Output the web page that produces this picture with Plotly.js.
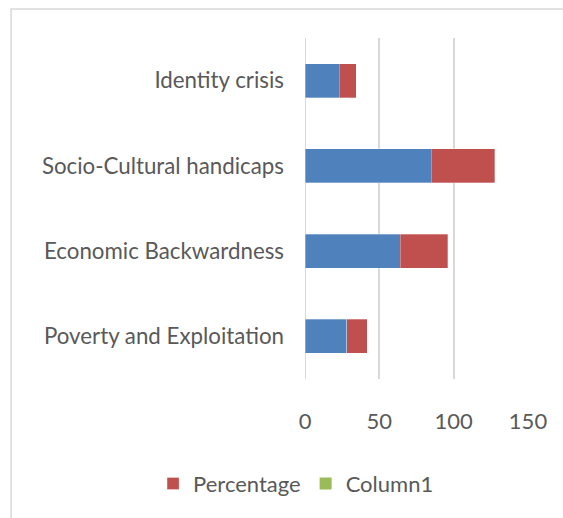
<!DOCTYPE html>
<html>
<head>
<meta charset="utf-8">
<script src="https://cdn.plot.ly/plotly-3.0.1.min.js"></script>
<style>
html,body{margin:0;padding:0;background:#fff;}
#chart{width:563px;height:518px;}
</style>
</head>
<body>
<div id="chart"></div>
<script>
const categories = ["Poverty and Exploitation", "Economic Backwardness", "Socio-Cultural handicaps", "Identity crisis"];
const frequency = [28, 64, 85, 23];
const percentage = [14, 32, 42.5, 11.5];
const column1 = [null, null, null, null];
const xTicks = [0, 50, 100, 150];

const FONT = "Lato, 'Liberation Sans', sans-serif";
const TXT = "#595959";
const GRID = "#d9d9d9";

const traces = [
  {type: "bar", orientation: "h", name: "Frequency", y: categories, x: frequency,
   marker: {color: "#4f81bd", line: {color: "#ffffff", width: 0.3}}, showlegend: false},
  {type: "bar", orientation: "h", name: "Percentage", y: categories, x: percentage,
   marker: {color: "#c0504d", line: {color: "#ffffff", width: 0.3}}},
  {type: "bar", orientation: "h", name: "Column1", y: categories, x: column1,
   marker: {color: "#9bbb59"}}
];

const layout = {
  width: 563, height: 518,
  margin: {l: 305, r: 35, t: 38, b: 139},
  paper_bgcolor: "#ffffff", plot_bgcolor: "#ffffff",
  barmode: "stack", bargap: 0.6,
  font: {family: FONT, size: 22, color: TXT},
  xaxis: {range: [0, 150], tickvals: xTicks, ticktext: xTicks.map(String),
          showgrid: true, gridcolor: GRID, gridwidth: 2, zeroline: false,
          showline: false, ticks: "", ticklabelstandoff: 27,
          tickfont: {family: FONT, size: 22, color: TXT}, fixedrange: true},
  yaxis: {type: "category", categoryorder: "array", categoryarray: categories,
          showgrid: false, zeroline: false, showline: false, ticks: "",
          ticklabelstandoff: 20, tickfont: {family: FONT, size: 22.3, color: TXT}, fixedrange: true},
  legend: {orientation: "h", x: -0.04, xanchor: "center", y: -0.307, yanchor: "middle",
           font: {family: FONT, size: 22, color: TXT}, traceorder: "normal", itemwidth: 30},
  shapes: [
    {type: "rect", xref: "paper", yref: "paper", x0: -1.318, x1: 2, y0: -2, y1: 1.085,
     line: {color: GRID, width: 1.5}, fillcolor: "rgba(0,0,0,0)", layer: "below"},
    {type: "line", xref: "x", yref: "paper", x0: 0, x1: 0, y0: 0, y1: 1,
     line: {color: GRID, width: 2}, layer: "below"}
  ]
};

Plotly.newPlot("chart", traces, layout, {displayModeBar: false, staticPlot: true});
</script>
</body>
</html>
